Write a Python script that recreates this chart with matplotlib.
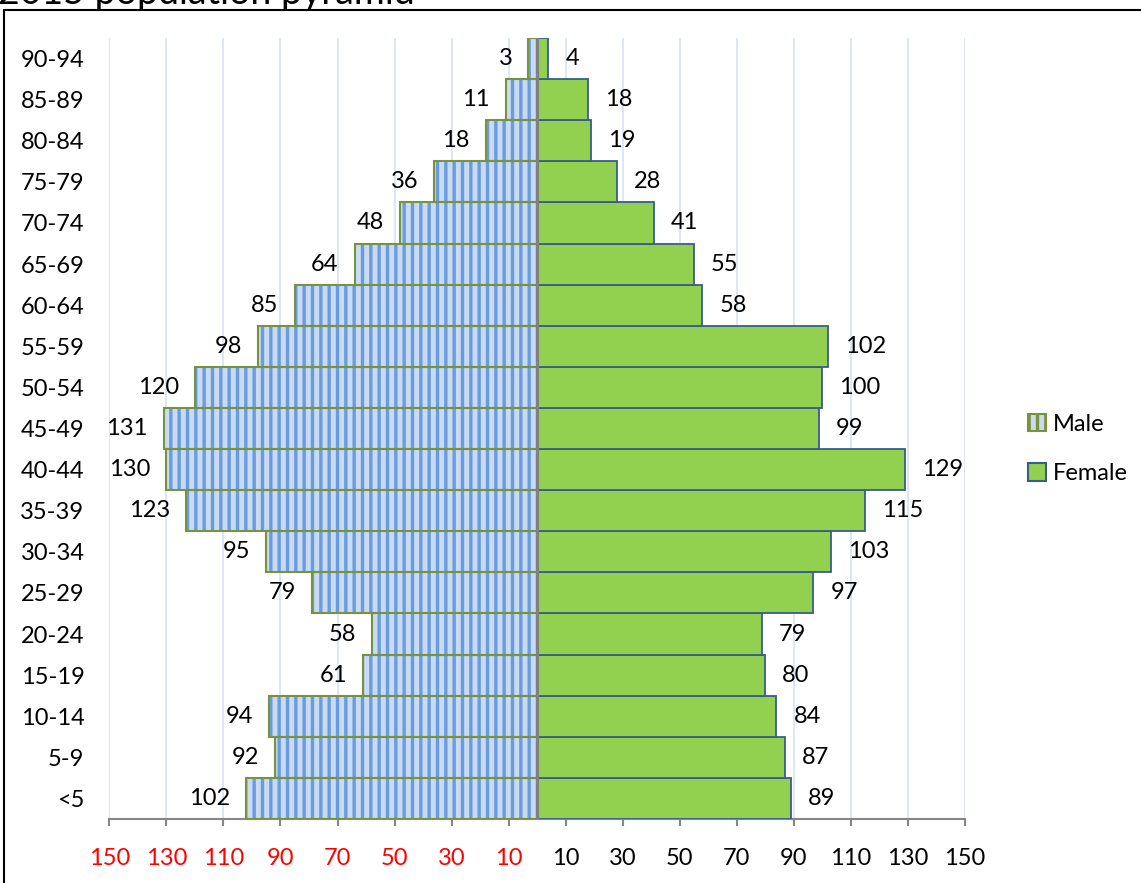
import matplotlib
matplotlib.use("Agg")
import matplotlib.pyplot as plt
from matplotlib.patches import Rectangle, Patch
import numpy as np

plt.rcParams["font.family"] = ["Lato", "DejaVu Sans"]
plt.rcParams["hatch.linewidth"] = 2.4

# Age groups from youngest (bottom) to oldest (top)
age_groups = ["<5", "5-9", "10-14", "15-19", "20-24", "25-29", "30-34", "35-39",
              "40-44", "45-49", "50-54", "55-59", "60-64", "65-69", "70-74",
              "75-79", "80-84", "85-89", "90-94"]
male = [102, 92, 94, 61, 58, 79, 95, 123, 130, 131, 120, 98, 85, 64, 48, 36, 18, 11, 3]
female = [89, 87, 84, 80, 79, 97, 103, 115, 129, 99, 100, 102, 58, 55, 41, 28, 19, 18, 4]

tick_values = [-150, -130, -110, -90, -70, -50, -30, -10, 10, 30, 50, 70, 90, 110, 130, 150]
tick_labels = ["150", "130", "110", "90", "70", "50", "30", "10",
               "10", "30", "50", "70", "90", "110", "130", "150"]

MALE_FACE = "#C9DBF3"
MALE_STRIPE = "#6A9BDE"
MALE_EDGE = "#77933C"
FEMALE_FACE = "#92D050"
FEMALE_EDGE = "#385D8A"

W, H = 1141, 883
fig = plt.figure(figsize=(W / 100, H / 100), dpi=100)
ax = fig.add_axes([109.5 / W, 64 / H, 855 / W, 781 / H])

y = np.arange(len(age_groups))
male_neg = -np.array(male)

# Male bars: striped fill, then olive outline on top
ax.barh(y, male_neg, height=1.0, color=MALE_FACE, edgecolor=MALE_STRIPE,
        hatch="||", linewidth=0, zorder=2)
ax.barh(y, male_neg, height=1.0, fill=False, edgecolor=MALE_EDGE,
        linewidth=1.5, zorder=3)
# Female bars
ax.barh(y, female, height=1.0, color=FEMALE_FACE, edgecolor=FEMALE_EDGE,
        linewidth=1.3, zorder=3)

# Central axis
ax.axvline(0, color="#808080", lw=2.2, zorder=4)

# Value labels
for i, v in enumerate(male):
    ax.annotate(str(v), xy=(-v, i), xytext=(-16, 0), textcoords="offset pixels",
                ha="right", va="center", fontsize=17, color="black")
for i, v in enumerate(female):
    ax.annotate(str(v), xy=(v, i), xytext=(17, 0), textcoords="offset pixels",
                ha="left", va="center", fontsize=17, color="black")

ax.set_xlim(-150, 150)
ax.set_ylim(-0.5, len(age_groups) - 0.5)

ax.set_yticks(y, age_groups)
ax.tick_params(axis="y", length=0, pad=18, labelsize=17)

ax.set_xticks(tick_values, tick_labels)
ax.tick_params(axis="x", direction="out", length=5, width=1.5, color="#868686",
               pad=16, labelsize=17)
for lbl, v in zip(ax.get_xticklabels(), tick_values):
    lbl.set_color("#FF0000" if v < 0 else "black")

ax.grid(axis="x", color="#D9E2F1", lw=1.2, zorder=0)
ax.set_axisbelow(True)

for side in ["left", "right", "top"]:
    ax.spines[side].set_visible(False)
ax.spines["bottom"].set_color("#868686")
ax.spines["bottom"].set_linewidth(1.5)

# Legend
handles = [
    Patch(facecolor=MALE_FACE, edgecolor=MALE_EDGE, hatch="||", linewidth=1.5, label="Male"),
    Patch(facecolor=FEMALE_FACE, edgecolor=FEMALE_EDGE, linewidth=1.5, label="Female"),
]
leg = fig.legend(handles=handles, loc="center left", bbox_to_anchor=(1016 / W, 1 - 449 / H),
                 frameon=False, fontsize=17, handlelength=0.75, handleheight=0.75,
                 handletextpad=0.3, labelspacing=1.2, borderpad=0)
for h in leg.legend_handles:
    if h.get_hatch():
        h.set_edgecolor(MALE_EDGE)

# Chart frame and title
fig.add_artist(Rectangle((4 / W, -0.2), 2.0, 1.2 - 10 / H, fill=False,
                         edgecolor="black", linewidth=1.5,
                         transform=fig.transFigure, clip_on=False))
fig.text(-2 / W, 1 - 4 / H, "2015 population pyramid", fontsize=27,
         va="baseline", ha="left")

fig.savefig("out.png", dpi=100)
